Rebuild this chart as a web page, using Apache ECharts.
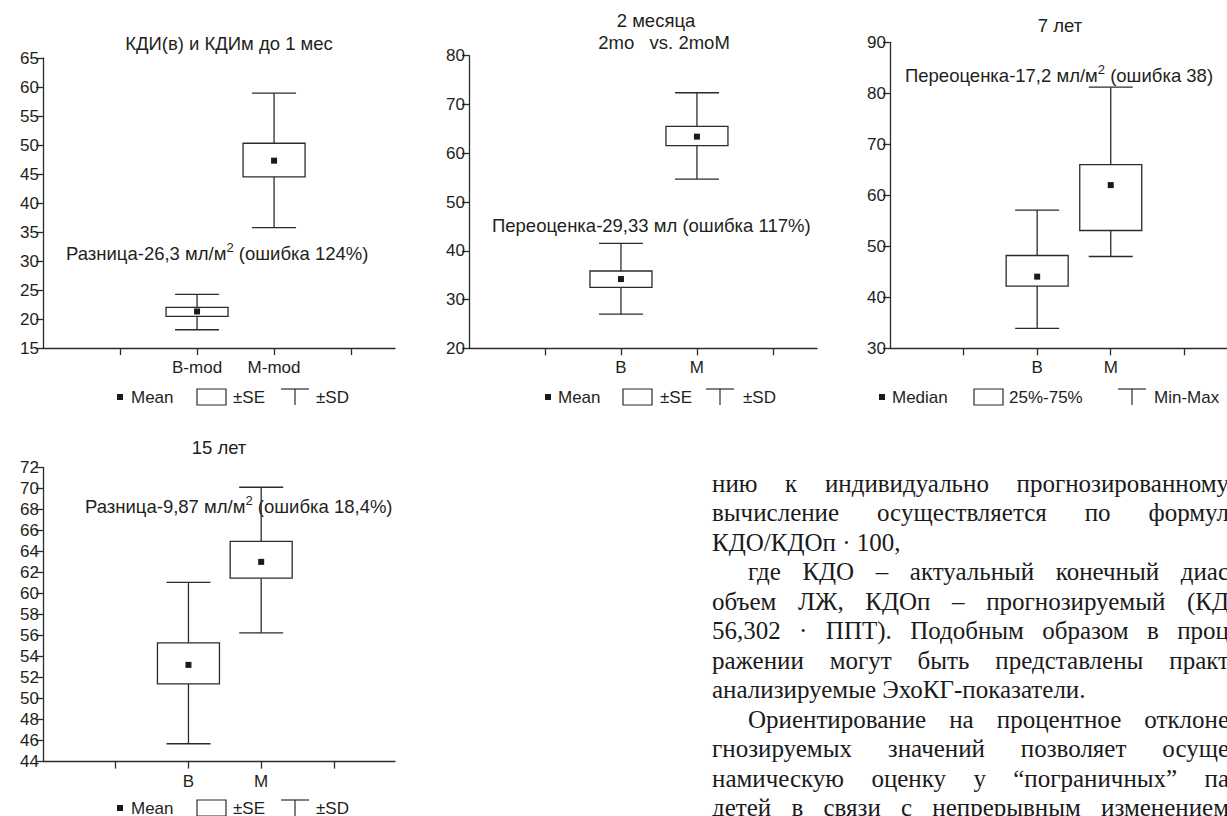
<!DOCTYPE html>
<html>
<head>
<meta charset="utf-8">
<script src="https://cdn.jsdelivr.net/npm/echarts@6/dist/echarts.min.js"></script>
<style>
html,body{margin:0;padding:0;background:#fff;}
#c{width:1227px;height:816px;}
</style>
</head>
<body>
<div id="c"></div>
<script>
// ---------- DATA ----------
// Panel 1: КДИ(в) и КДИм до 1 мес (Mean, ±SE, ±SD)
const cats1 = ['B-mod', 'M-mod'];
const p1Mean   = [21.3, 47.3];
const p1SeLow  = [20.45, 44.5];
const p1SeHigh = [22.0, 50.3];
const p1SdLow  = [18.15, 35.75];
const p1SdHigh = [24.25, 58.95];

// Panel 2: 2 месяца (Mean, ±SE, ±SD)
const cats2 = ['B', 'M'];
const p2Mean   = [34.2, 63.4];
const p2SeLow  = [32.5, 61.55];
const p2SeHigh = [35.85, 65.5];
const p2SdLow  = [27.0, 54.7];
const p2SdHigh = [41.5, 72.4];

// Panel 3: 7 лет (Median, 25%-75%, Min-Max)
const cats3 = ['B', 'M'];
const p3Median = [44.05, 62.0];
const p3Q1     = [42.2, 53.1];
const p3Q3     = [48.2, 66.0];
const p3Min    = [33.9, 48.0];
const p3Max    = [57.1, 81.2];

// Panel 4: 15 лет (Mean, ±SE, ±SD)
const cats4 = ['B', 'M'];
const p4Mean   = [53.2, 63.0];
const p4SeLow  = [51.4, 61.45];
const p4SeHigh = [55.3, 64.95];
const p4SdLow  = [45.7, 56.25];
const p4SdHigh = [61.05, 70.1];

// Texts
const titles = ['КДИ(в) и КДИм до 1 мес', '2 месяца', '2mo\u00a0\u00a0\u00a0vs. 2moM', '7 лет', '15 лет'];
const notes = [
  ['Разница-26,3 мл/м', '2', ' (ошибка 124%)'],
  ['Переоценка-29,33 мл (ошибка 117%)', '', ''],
  ['Переоценка-17,2 мл/м', '2', ' (ошибка 38)'],
  ['Разница-9,87 мл/м', '2', ' (ошибка 18,4%)']
];
const legendA = ['Mean', '±SE', '±SD'];
const legendB = ['Median', '25%-75%', 'Min-Max'];
const bodyLines = [
  'нию к индивидуально прогнозированному',
  'вычисление осуществляется по формул',
  'КДО/КДОп · 100,',
  'где КДО – актуальный конечный диас',
  'объем ЛЖ, КДОп – прогнозируемый (КД',
  '56,302 · ППТ). Подобным образом в проц',
  'ражении могут быть представлены практ',
  'анализируемые ЭхоКГ-показатели.',
  'Ориентирование на процентное отклоне',
  'гнозируемых значений позволяет осуще',
  'намическую оценку у “пограничных” па',
  'детей в связи с непрерывным изменением'
];
const bodyIndent = [0,0,0,1,0,0,0,0,1,0,0,0];
const bodyJustify = [1,1,0,1,1,1,1,0,1,1,1,1];

// ---------- STYLE / LAYOUT ----------
const SANS = '"Liberation Sans", Arial, sans-serif';
const SERIF = '"Liberation Serif", "Times New Roman", serif';
const INK = '#231f20';
const FS = 17;
const FS_T = 18.5;

const panels = [
  {grid:{left:43, top:58, width:352, height:290}, yMin:15, yMax:65, yInt:5, xMax:4.57, cats:cats1,
   lo:p1SdLow, bl:p1SeLow, md:p1Mean, bh:p1SeHigh, hi:p1SdHigh},
  {grid:{left:469, top:55.7, width:348, height:292.6}, yMin:20, yMax:80, yInt:10, xMax:4.58, cats:cats2,
   lo:p2SdLow, bl:p2SeLow, md:p2Mean, bh:p2SeHigh, hi:p2SdHigh},
  {grid:{left:890, top:42.3, width:340, height:306}, yMin:30, yMax:90, yInt:10, xMax:4.58, cats:cats3,
   lo:p3Min, bl:p3Q1, md:p3Median, bh:p3Q3, hi:p3Max},
  {grid:{left:43, top:467.3, width:352, height:294.3}, yMin:44, yMax:72, yInt:2, xMax:4.84, cats:cats4,
   lo:p4SdLow, bl:p4SeLow, md:p4Mean, bh:p4SeHigh, hi:p4SdHigh}
];

function renderBox(params, api) {
  const x = api.value(0);
  const pts = [1,2,3,4,5].map(d => api.coord([x, api.value(d)]));
  const cx = pts[0][0];
  const lo = pts[0][1], bl = pts[1][1], md = pts[2][1], bh = pts[3][1], hi = pts[4][1];
  const st = {stroke:'#2b2b2b', lineWidth:1.3, fill:null};
  return {type:'group', children:[
    {type:'line', shape:{x1:cx, y1:hi, x2:cx, y2:bh}, style:st},
    {type:'line', shape:{x1:cx, y1:bl, x2:cx, y2:lo}, style:st},
    {type:'line', shape:{x1:cx-22, y1:hi, x2:cx+22, y2:hi}, style:st},
    {type:'line', shape:{x1:cx-22, y1:lo, x2:cx+22, y2:lo}, style:st},
    {type:'rect', shape:{x:cx-31, y:bh, width:62, height:bl-bh}, style:{stroke:'#2b2b2b', lineWidth:1.3, fill:'#fff'}},
    {type:'rect', shape:{x:cx-3, y:md-3, width:6, height:6}, style:{fill:'#1a1a1a'}}
  ]};
}

const grids = [], xAxes = [], yAxes = [], series = [];
panels.forEach((p, i) => {
  grids.push(Object.assign({containLabel:false}, p.grid));
  xAxes.push({
    type:'value', gridIndex:i, min:0, max:p.xMax, interval:1,
    axisLine:{show:true, lineStyle:{color:'#2b2b2b', width:1.3}},
    axisTick:{show:true, inside:false, length:7, customValues:[1,2,3,4], lineStyle:{color:'#2b2b2b', width:1.3}},
    axisLabel:{show:true, customValues:[2,3], margin:11, color:INK, fontFamily:SANS, fontSize:FS,
      formatter: (v) => (Math.round(v) === 2 ? p.cats[0] : Math.round(v) === 3 ? p.cats[1] : '')},
    splitLine:{show:false}
  });
  yAxes.push({
    type:'value', gridIndex:i, min:p.yMin, max:p.yMax, interval:p.yInt,
    axisLine:{show:true, lineStyle:{color:'#2b2b2b', width:1.3}},
    axisTick:{show:true, inside:false, length:7, lineStyle:{color:'#2b2b2b', width:1.3}},
    axisLabel:{show:true, margin:4, color:INK, fontFamily:SANS, fontSize:FS},
    splitLine:{show:false}
  });
  series.push({
    type:'custom', xAxisIndex:i, yAxisIndex:i, renderItem:renderBox,
    encode:{x:0, y:[1,2,3,4,5]}, silent:true, animation:false,
    data: p.cats.map((c, k) => [2 + k, p.lo[k], p.bl[k], p.md[k], p.bh[k], p.hi[k]])
  });
});

// ---------- GRAPHIC TEXT ----------
const graphic = [];
function txt(x, y, text, align, extra, size) {
  graphic.push({type:'text', x:x, y:y, silent:true,
    style:Object.assign({text:text, fill:INK, font: (size || FS) + 'px ' + SANS, align:align || 'left', verticalAlign:'middle'}, extra || {})});
}
// titles
txt(229, 43, titles[0], 'center', null, FS_T);
txt(656, 20, titles[1], 'center', null, FS_T);
txt(664, 42, titles[2], 'center', null, FS_T);
txt(1060, 25, titles[3], 'center', null, FS_T);
txt(219, 447, titles[4], 'center', null, FS_T);

// notes with superscript
const notePos = [[66, 252], [492, 224], [905, 74], [85, 505]];
notes.forEach((n, i) => {
  let t = '{a|' + n[0] + '}';
  if (n[1]) t += '{s|' + n[1] + '}';
  if (n[2]) t += '{a|' + n[2] + '}';
  graphic.push({type:'text', x:notePos[i][0], y:notePos[i][1], silent:true,
    style:{text:t, align:'left', verticalAlign:'middle',
      rich:{
        a:{fontFamily:SANS, fontSize:FS_T, color:INK, fill:INK, lineHeight:22, verticalAlign:'bottom'},
        s:{fontFamily:SANS, fontSize:13, color:INK, fill:INK, lineHeight:14, verticalAlign:'top'}
      }}});
});

// legends
const legendLayout = [
  {y:397, sq:120, t1:131, box:197, t2:233, wh:281, t3:316, labels:legendA},
  {y:397, sq:548, t1:558, box:623, t2:660, wh:706, t3:743, labels:legendA},
  {y:397, sq:882, t1:892, box:974, t2:1009, wh:1118, t3:1154, labels:legendB},
  {y:808, sq:120, t1:131, box:197, t2:233, wh:281, t3:316, labels:legendA}
];
legendLayout.forEach(L => {
  graphic.push({type:'rect', silent:true, shape:{x:L.sq-3, y:L.y-3, width:6, height:6}, style:{fill:'#1a1a1a'}});
  txt(L.t1, L.y, L.labels[0]);
  graphic.push({type:'rect', silent:true, shape:{x:L.box, y:L.y-8, width:29, height:16}, style:{fill:'#fff', stroke:'#2b2b2b', lineWidth:1.2}});
  txt(L.t2, L.y, L.labels[1]);
  graphic.push({type:'line', silent:true, shape:{x1:L.wh, y1:L.y-8, x2:L.wh+28, y2:L.y-8}, style:{stroke:'#2b2b2b', lineWidth:1.2}});
  graphic.push({type:'line', silent:true, shape:{x1:L.wh+14, y1:L.y-8, x2:L.wh+14, y2:L.y+8}, style:{stroke:'#2b2b2b', lineWidth:1.2}});
  txt(L.t3, L.y, L.labels[2]);
});

// body text (justified lines, cut at right edge)
const BODY_FS = 25;
const bodyFont = BODY_FS + 'px ' + SERIF;
const cv = document.createElement('canvas').getContext('2d');
cv.font = bodyFont;
const bodyLeft = 712, bodyRight = 1229, indentW = 36, lineTop = 483, lineStep = 29.5;
bodyLines.forEach((line, i) => {
  const y = lineTop + i * lineStep;
  const x0 = bodyLeft + (bodyIndent[i] ? indentW : 0);
  const words = line.split(' ');
  if (!bodyJustify[i] || words.length < 2) {
    txt(x0, y, line, 'left', {font: bodyFont, fill:'#1a1a1a'});
    return;
  }
  const widths = words.map(w => cv.measureText(w).width);
  const sum = widths.reduce((a, b) => a + b, 0);
  let gap = (bodyRight - x0 - sum) / (words.length - 1);
  gap = Math.max(gap, BODY_FS * 0.22);
  let x = x0;
  words.forEach((w, k) => {
    txt(x, y, w, 'left', {font: bodyFont, fill:'#1a1a1a'});
    x += widths[k] + gap;
  });
});

const chart = echarts.init(document.getElementById('c'), null, {renderer:'svg'});
chart.setOption({
  animation:false,
  backgroundColor:'#fff',
  grid:grids, xAxis:xAxes, yAxis:yAxes, series:series, graphic:graphic
});
</script>
</body>
</html>
